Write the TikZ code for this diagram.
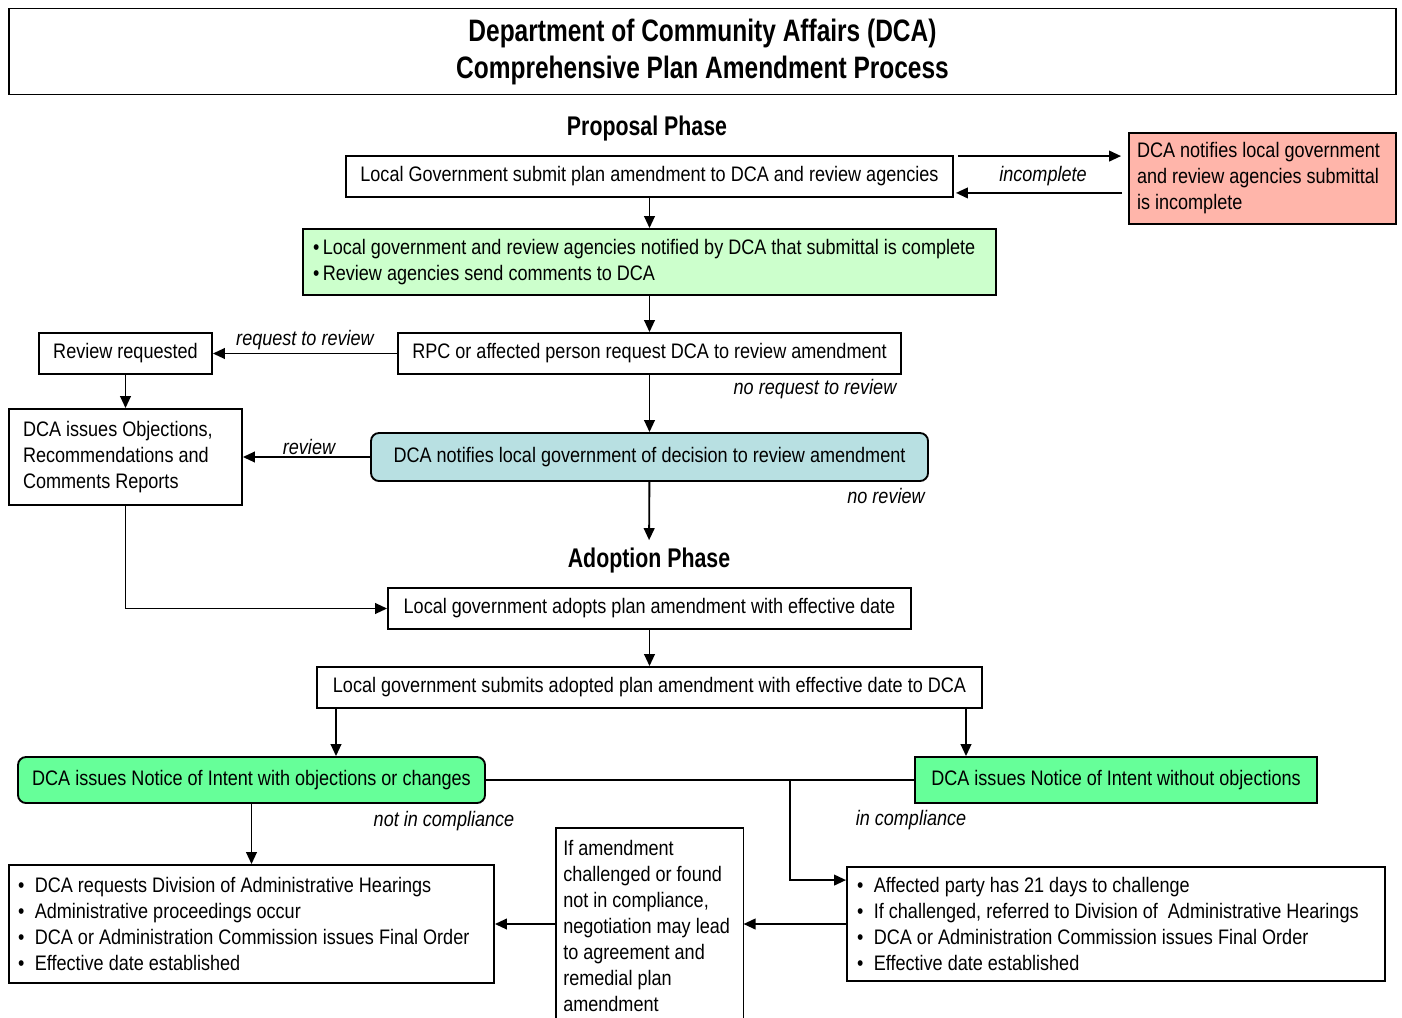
\documentclass[tikz,border=0pt]{standalone}
\usepackage{fontspec}
\setmainfont{Liberation Sans}[FakeStretch=0.86]
\newfontfamily\condfont{Liberation Sans}[FakeStretch=0.79]
\usetikzlibrary{arrows.meta,calc}
\definecolor{redfill}{RGB}{255,181,170}
\definecolor{palegreen}{RGB}{204,255,204}
\definecolor{paleblue}{RGB}{184,224,226}
\definecolor{brightgreen}{RGB}{102,255,153}
\newcommand{\pxu}{0.75pt}
\newcommand{\bodyfont}{\fontsize{15.75}{19.5}\selectfont}
\newcommand{\bul}{•\hspace{0.5em}}
\begin{document}
\begin{tikzpicture}[x=0.75pt,y=-0.75pt,
  box/.style={draw=black, line width=1.4pt, inner sep=0pt, align=center, font=\bodyfont},
  arr/.style={line width=1.4pt, -{Triangle[length=9pt,width=8pt]}},
  conn/.style={line width=1.4pt},
  lab/.style={font=\bodyfont\itshape, inner sep=0pt},
  phase/.style={font=\condfont\fontsize{20.25}{24}\selectfont\bfseries, inner sep=0pt}
]
\useasboundingbox[fill=white] (0,0) rectangle (1402,1017);

% title
\node[box, line width=1.1pt, minimum width=1387*\pxu, minimum height=86*\pxu,
      font=\condfont\fontsize{23.25}{27.75}\selectfont\bfseries] (title) at (702.5,51.5)
  {Department of Community Affairs (DCA)\\Comprehensive Plan Amendment Process};

\node[phase] (pp) at (647,129) {Proposal Phase};

\node[box, minimum width=607*\pxu, minimum height=41*\pxu] (b1) at (649.5,176.5)
  {Local Government submit plan amendment to DCA and review agencies};

\node[box, fill=redfill, minimum width=267*\pxu, minimum height=91*\pxu, align=flush left,
      text width=251*\pxu] (red) at (1262.5,178.5)
  {DCA notifies local government\\and review agencies submittal\\is incomplete};

\node[box, fill=palegreen, minimum width=693*\pxu, minimum height=66*\pxu, align=flush left,
      text width=673*\pxu] (g1) at (649.5,262)
  {•\,Local government and review agencies notified by DCA that submittal is complete\\•\,Review agencies send comments to DCA};

\node[box, minimum width=503*\pxu, minimum height=41*\pxu] (rpc) at (649.5,353.5)
  {RPC or affected person request DCA to review amendment};

\node[box, minimum width=173*\pxu, minimum height=41*\pxu] (rr) at (125.5,353.5)
  {Review requested};

\node[box, minimum width=233*\pxu, minimum height=96*\pxu, align=flush left,
      text width=205*\pxu] (obj) at (125.5,457)
  {DCA issues Objections,\\Recommendations and\\Comments Reports};

\node[box, fill=paleblue, rounded corners=6pt, minimum width=557*\pxu, minimum height=48*\pxu] (blue) at (649.5,457)
  {DCA notifies local government of decision to review amendment};

\node[phase, inner ysep=6pt] (adp) at (649,561) {Adoption Phase};

\node[box, minimum width=523*\pxu, minimum height=41*\pxu] (ad) at (649.5,608.5)
  {Local government adopts plan amendment with effective date};

\node[box, minimum width=665*\pxu, minimum height=41*\pxu] (sub) at (649.5,687.5)
  {Local government submits adopted plan amendment with effective date to DCA};

\node[box, fill=brightgreen, rounded corners=6pt, minimum width=467*\pxu, minimum height=46*\pxu] (lg) at (251.5,780)
  {DCA issues Notice of Intent with objections or changes};

\node[box, fill=brightgreen, minimum width=402*\pxu, minimum height=46*\pxu] (rg) at (1116,780)
  {DCA issues Notice of Intent without objections};

\node[box, minimum width=485*\pxu, minimum height=118*\pxu, align=flush left,
      text width=467*\pxu] (bl) at (251.5,924)
  {\bul DCA requests Division of Administrative Hearings\\
   \bul Administrative proceedings occur\\
   \bul DCA or Administration Commission issues Final Order\\
   \bul Effective date established};

\node[box, minimum width=538*\pxu, minimum height=114*\pxu, align=flush left,
      text width=518*\pxu] (br) at (1116,924)
  {\bul Affected party has 21 days to challenge\\
   \bul If challenged, referred to Division of \ Administrative Hearings\\
   \bul DCA or Administration Commission issues Final Order\\
   \bul Effective date established};

\node[minimum width=187*\pxu, minimum height=189*\pxu, inner sep=0pt, anchor=north west] (mid) at (556,828) {};
\draw[conn] (mid.south west) |- (mid.north east) -- (mid.south east);
\node[anchor=north west, inner sep=0pt, align=flush left, font=\bodyfont, text width=178*\pxu] (midtxt) at (563,840)
  {If amendment\\challenged or found\\not in compliance,\\negotiation may lead\\to agreement and\\remedial plan\\amendment};

% labels
\node[lab] at (1043,176) {incomplete};
\node[lab] at (305,340) {request to review};
\node[lab] at (815,389) {no request to review};
\node[lab] at (309,447) {review};
\node[lab] at (886,496) {no review};
\node[lab] at (444,821) {not in compliance};
\node[lab] at (911,820) {in compliance};

% connectors
\draw[arr] ($(b1.north east)+(4,1)$) -- ($(red.west |- b1.north)+(-7,1)$);
\draw[arr] ($(red.west |- b1.south)+(-6,-5)$) -- ($(b1.south east)+(2,-5)$);
\draw[arr] (b1) -- (g1);
\draw[arr] (g1) -- (rpc);
\draw[arr] (rpc) -- (rr);
\draw[arr] (rpc) -- (blue);
\draw[arr] (rr) -- (obj);
\draw[arr] (blue) -- (obj);
\draw[arr] (blue) -- (adp);
\draw[arr] (obj.south) |- (ad.west);
\draw[arr] (ad) -- (sub);
\coordinate (xl) at (336,0);
\coordinate (xr) at (966,0);
\draw[arr] (xl |- sub.south) -- (xl |- lg.north);
\draw[arr] (xr |- sub.south) -- (xr |- rg.north);
\draw[conn] (lg) -- (rg);
\coordinate (jn) at (790,780);
\coordinate (brin) at ($(br.north west)+(0,14)$);
\draw[arr] (jn) |- (brin);
\draw[arr] (lg) -- (bl);
\draw[arr] (br.west) -- (br.west -| mid.east);
\draw[arr] (mid.west |- bl.east) -- (bl.east);
\end{tikzpicture}
\end{document}
